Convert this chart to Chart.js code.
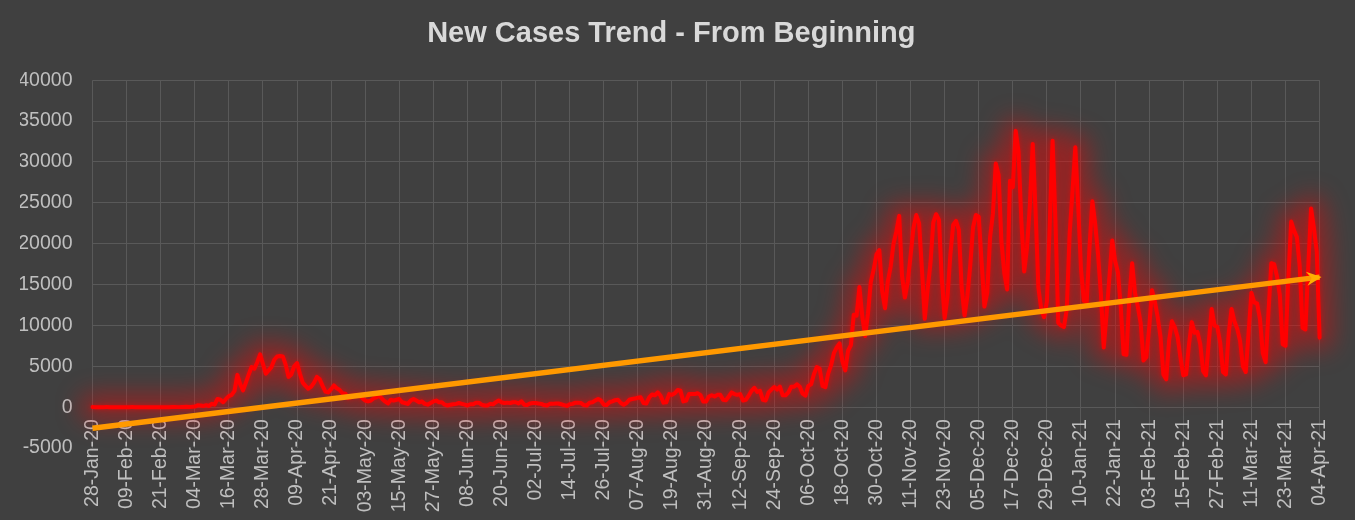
<!DOCTYPE html>
<html><head><meta charset="utf-8">
<script src="https://cdn.jsdelivr.net/npm/chart.js@4.4.1/dist/chart.umd.min.js"></script>
<style>html,body{margin:0;padding:0;background:#404040;overflow:hidden}canvas{display:block}</style>
</head><body>
<canvas id="c" width="1355" height="520"></canvas>
<script>
// Daily new cases, 28-Jan-2020 .. 04-Apr-2021
const jan20 = [4, 0, 1, 0];
const feb20 = [1, 2, 1, 0, 0, 1, 0, 1, 0, 0, 2, 0, 0, 0, 0, 0, 0, 0, 0, 0, 0, 0, 0, 0, 2, 6, 1, 10, 30];
const mar20 = [57, 29, 37, 66, 220, 188, 129, 241, 136, 400, 300, 1000, 900, 600, 1000, 1350, 1500, 2000, 3950, 2800, 2050, 3000, 4000, 4900, 4700, 5500, 6450, 5300, 4100, 4500, 4900];
const apr20 = [5800, 6200, 6250, 6200, 5200, 3700, 4000, 5000, 5400, 4100, 3000, 2600, 2250, 2500, 3000, 3700, 3400, 2600, 1900, 1800, 2200, 2650, 2300, 2100, 1700, 1650, 1100, 1200, 1400, 1450];
const may20 = [1430, 1100, 800, 700, 800, 1100, 1200, 1400, 1000, 700, 450, 900, 800, 900, 1000, 600, 500, 400, 800, 1000, 800, 600, 700, 400, 300, 500, 700, 800, 600, 600, 300];
const jun20 = [200, 300, 350, 400, 500, 400, 300, 200, 350, 350, 550, 550, 300, 200, 200, 400, 350, 600, 800, 600, 500, 550, 500, 600, 600, 450, 700, 300, 250, 450];
const jul20 = [500, 500, 450, 400, 250, 200, 400, 400, 450, 450, 350, 250, 150, 350, 400, 550, 550, 500, 250, 200, 550, 600, 800, 1000, 800, 300, 250, 600, 700, 850, 900];
const aug20 = [500, 300, 500, 900, 1000, 1050, 1150, 1200, 500, 450, 1200, 1550, 1450, 1800, 1400, 550, 600, 1600, 1500, 1700, 2100, 2000, 700, 800, 1600, 1600, 1600, 1700, 1500, 700, 700];
const sep20 = [1300, 1450, 1300, 1500, 1500, 900, 850, 1300, 1800, 1600, 1500, 1600, 820, 900, 1400, 2000, 2370, 1850, 2000, 900, 820, 1800, 2150, 2450, 2150, 2500, 1450, 1450, 1800, 2500];
const oct20 = [2500, 2780, 2500, 1640, 1400, 2600, 2800, 4050, 4900, 4700, 2600, 2450, 4100, 5100, 6600, 7300, 7800, 5600, 4500, 6900, 7600, 11300, 11200, 14700, 11100, 8700, 11400, 15300, 16800, 18700, 19200];
const nov20 = [14200, 12100, 15400, 17200, 19990, 21500, 23400, 16000, 13400, 15300, 18500, 21900, 23500, 22500, 16900, 10800, 14400, 17600, 22600, 23600, 22900, 15700, 10900, 13500, 18600, 22300, 22800, 21700, 14600, 11200];
const dec20 = [13600, 17300, 22000, 23500, 23300, 17800, 12300, 14000, 20800, 23700, 29800, 28400, 20200, 16400, 14400, 27700, 26900, 33800, 31300, 22800, 16600, 19500, 24700, 32200, 24000, 14600, 12000, 11000, 12900, 22400, 32600];
const jan21 = [22900, 10300, 10000, 9800, 12000, 21200, 26400, 31800, 24700, 16900, 13000, 12800, 19600, 25200, 22400, 18700, 13900, 7300, 11400, 15900, 20400, 17900, 16500, 12300, 6500, 6400, 13200, 17600, 14000, 12300, 10300];
const feb21 = [5700, 6100, 9700, 14300, 12900, 11000, 8600, 4000, 3400, 8100, 10500, 9800, 8600, 6100, 3900, 4000, 7600, 10400, 9100, 9200, 7700, 4400, 3900, 8000, 12000, 10000, 9800, 7900];
const mar21 = [4300, 4000, 9000, 12000, 10500, 9600, 8100, 5000, 4300, 9100, 14000, 12800, 12700, 10800, 6600, 5500, 11600, 17600, 17500, 16000, 13700, 7700, 7500, 15800, 22700, 21600, 20800, 17200, 9700, 9500, 17100];
const apr21 = [24300, 21900, 19000, 8500];

const cases = [].concat(jan20, feb20, mar20, apr20, may20, jun20, jul20, aug20, sep20, oct20, nov20, dec20, jan21, feb21, mar21, apr21);

const monthNames = ['Jan','Feb','Mar','Apr','May','Jun','Jul','Aug','Sep','Oct','Nov','Dec'];
const categories = cases.map((_, i) => {
  const d = new Date(Date.UTC(2020, 0, 28 + i));
  return String(d.getUTCDate()).padStart(2, '0') + '-' + monthNames[d.getUTCMonth()] + '-' + String(d.getUTCFullYear()).slice(2);
});

const tickLabels = ['28-Jan-20','09-Feb-20','21-Feb-20','04-Mar-20','16-Mar-20','28-Mar-20','09-Apr-20','21-Apr-20','03-May-20','15-May-20','27-May-20','08-Jun-20','20-Jun-20','02-Jul-20','14-Jul-20','26-Jul-20','07-Aug-20','19-Aug-20','31-Aug-20','12-Sep-20','24-Sep-20','06-Oct-20','18-Oct-20','30-Oct-20','11-Nov-20','23-Nov-20','05-Dec-20','17-Dec-20','29-Dec-20','10-Jan-21','22-Jan-21','03-Feb-21','15-Feb-21','27-Feb-21','11-Mar-21','23-Mar-21','04-Apr-21'];
const tickEvery = 12;

// Linear (least squares) trendline, as Excel computes it
const n = cases.length;
let sx = 0, sy = 0, sxx = 0, sxy = 0;
cases.forEach((v, i) => { sx += i; sy += v; sxx += i * i; sxy += i * v; });
const slope = (n * sxy - sx * sy) / (n * sxx - sx * sx);
const intercept = (sy - slope * sx) / n;
const trend = cases.map((_, i) => (i === 0 || i === n - 1) ? intercept + slope * i : null);

const FONT = 'Liberation Sans, Arial, sans-serif';
const TXT = '#BFBFBF';
const GRID = '#595959';

// Soft red glow behind the case line (Excel "glow" effect)
const glowPlugin = {
  id: 'glow',
  beforeDatasetDraw(chart, args) {
    if (args.index !== 1) return;
    const pts = args.meta.data;
    const ctx = chart.ctx;
    ctx.save();
    ctx.filter = 'blur(12px)';
    ctx.strokeStyle = 'rgba(255,0,0,0.42)';
    ctx.lineWidth = 26;
    ctx.lineJoin = 'round';
    ctx.lineCap = 'round';
    ctx.beginPath();
    pts.forEach((p, i) => (i ? ctx.lineTo(p.x, p.y) : ctx.moveTo(p.x, p.y)));
    ctx.stroke();
    ctx.restore();
    ctx.save();
    ctx.shadowColor = 'rgba(255,0,0,0.55)';
    ctx.shadowBlur = 5;
  },
  afterDatasetDraw(chart, args) {
    if (args.index !== 1) return;
    chart.ctx.restore();
  }
};

const arrowPlugin = {
  id: 'arrow',
  afterDatasetsDraw(chart) {
    const pts = chart.getDatasetMeta(0).data;
    const a = pts[0], b = pts[pts.length - 1];
    const ang = Math.atan2(b.y - a.y, b.x - a.x);
    const ctx = chart.ctx;
    ctx.save();
    ctx.translate(b.x, b.y);
    ctx.rotate(ang);
    ctx.beginPath();
    ctx.moveTo(2, 0);
    ctx.lineTo(-13, -7);
    ctx.lineTo(-8, 0);
    ctx.lineTo(-13, 7);
    ctx.closePath();
    ctx.fillStyle = '#FFB000';
    ctx.fill();
    ctx.restore();
  }
};

new Chart(document.getElementById('c'), {
  type: 'line',
  data: {
    labels: categories,
    datasets: [
      {
        label: 'Trend',
        data: trend,
        borderColor: '#FF9900',
        borderWidth: 5.5,
        pointRadius: 0,
        spanGaps: true,
        borderCapStyle: 'butt'
      },
      {
        label: 'New Cases',
        data: cases,
        borderColor: '#FF0000',
        borderWidth: 4,
        pointRadius: 0,
        tension: 0,
        borderJoinStyle: 'round',
        borderCapStyle: 'round',
        clip: false
      }
    ]
  },
  options: {
    responsive: false,
    devicePixelRatio: 1,
    animation: false,
    layout: { padding: { left: 20, right: 32.5, top: 0, bottom: 72 } },
    plugins: {
      legend: { display: false },
      tooltip: { enabled: false },
      title: {
        display: true,
        text: 'New Cases Trend - From Beginning',
        color: '#D9D9D9',
        font: { family: FONT, size: 29, weight: 'bold' },
        padding: { top: 16.5, bottom: 28.9 }
      }
    },
    scales: {
      x: {
        type: 'category',
        position: { y: 0 },
        grid: { color: GRID, lineWidth: 1, drawTicks: false },
        border: { display: false },
        ticks: {
          autoSkip: false,
          minRotation: 90,
          maxRotation: 90,
          padding: 12,
          color: TXT,
          font: { family: FONT, size: 19.5 },
          callback: (v, i) => (i % tickEvery === 0 ? tickLabels[i / tickEvery] : null)
        }
      },
      y: {
        min: -5000,
        max: 40000,
        afterFit: (s) => { s.width = 72.5; },
        grid: {
          color: (c) => (c.tick && c.tick.value === -5000 ? 'rgba(0,0,0,0)' : GRID),
          lineWidth: 1,
          drawTicks: false
        },
        border: { display: false },
        ticks: {
          stepSize: 5000,
          padding: 20,
          color: TXT,
          font: { family: FONT, size: 19.5 },
          callback: (v) => String(v)
        }
      }
    }
  },
  plugins: [glowPlugin, arrowPlugin]
});
</script>
</body></html>
